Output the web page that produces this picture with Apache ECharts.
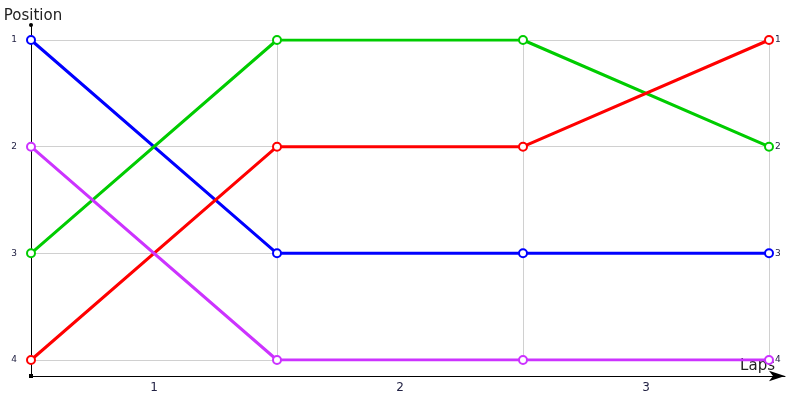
<!DOCTYPE html>
<html><head><meta charset="utf-8">
<script src="https://cdn.jsdelivr.net/npm/echarts@6/dist/echarts.min.js"></script>
<style>html,body{margin:0;padding:0;background:#fff}#c{width:800px;height:400px}</style>
</head><body><div id="c"></div>
<script>
const laps = ['1', '2', '3'];
const positions = [1, 2, 3, 4];
const blue = [1, 3, 3, 3];
const green = [3, 1, 1, 2];
const red = [4, 2, 2, 1];
const purple = [2, 4, 4, 4];
const seriesDefs = [
  { name: 'Blue', data: blue, color: '#0000ff' },
  { name: 'Green', data: green, color: '#00cc00' },
  { name: 'Red', data: red, color: '#ff0000' },
  { name: 'Purple', data: purple, color: '#cc33ff' }
];
const chart = echarts.init(document.getElementById('c'));
const font = 'DejaVu Sans';
chart.setOption({
  animation: false,
  textStyle: { fontFamily: font },
  grid: [
    { left: 31, right: 31, top: 40, bottom: 40, outerBoundsMode: 'none', containLabel: false },
    { left: 31, right: 15, top: 25, bottom: 24, outerBoundsMode: 'none', containLabel: false }
  ],
  xAxis: [
    { type: 'value', gridIndex: 0, min: 0, max: 3, show: false, position: 'top' },
    { type: 'category', gridIndex: 0, data: laps, boundaryGap: true, position: 'bottom',
      axisLine: { show: false }, axisTick: { show: false },
      axisLabel: { margin: 22, fontSize: 12, color: '#222244', fontFamily: font },
      splitLine: { show: true, lineStyle: { color: '#d0d0d0', width: 1 } } },
    { type: 'value', gridIndex: 1, min: 0, max: 1, position: 'bottom',
      axisLine: { show: true, symbol: ['none', 'arrow'], symbolSize: [8, 16], lineStyle: { color: '#000', width: 1 } },
      axisTick: { show: false }, axisLabel: { show: false }, splitLine: { show: false },
      name: 'Laps', nameLocation: 'end', nameGap: -10,
      nameTextStyle: { align: 'right', verticalAlign: 'bottom', fontSize: 15, color: '#222', padding: [0, 0, 2, 0], fontFamily: font } }
  ],
  yAxis: [
    { type: 'value', gridIndex: 0, inverse: true, min: 1, max: 4, interval: 1,
      axisLine: { show: false }, axisTick: { show: false },
      axisLabel: { margin: 14, fontSize: 9, color: '#222244', fontFamily: font },
      splitLine: { show: true, lineStyle: { color: '#d0d0d0', width: 1 } } },
    { type: 'value', gridIndex: 0, inverse: true, min: 1, max: 4, interval: 1, position: 'right',
      axisLine: { show: false }, axisTick: { show: false },
      axisLabel: { margin: 6, fontSize: 9, color: '#222244', fontFamily: font },
      splitLine: { show: false } },
    { type: 'value', gridIndex: 1, min: 0, max: 1,
      axisLine: { show: true, symbol: ['rect', 'circle'], symbolSize: [4, 4], lineStyle: { color: '#000', width: 1 } },
      axisTick: { show: false }, axisLabel: { show: false }, splitLine: { show: false },
      name: 'Position', nameLocation: 'end', nameGap: 1,
      nameTextStyle: { fontSize: 15, color: '#222', fontFamily: font, padding: [0, 0, 0, 4] } }
  ],
  series: seriesDefs.map(s => ({
    name: s.name, type: 'line', xAxisIndex: 0, yAxisIndex: 0,
    data: s.data.map((v, i) => [i, v]),
    symbol: 'emptyCircle', symbolSize: 8,
    lineStyle: { color: s.color, width: 3 },
    itemStyle: { color: s.color, borderWidth: 1.2 },
    z: 3
  }))
});
</script></body></html>
